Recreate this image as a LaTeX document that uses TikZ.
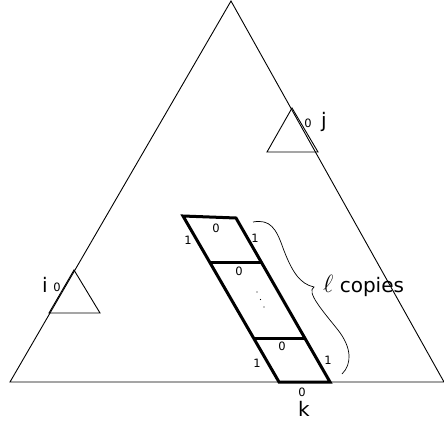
\documentclass[tikz,border=0pt]{standalone}
\usepackage{fontspec}
\setmainfont{DejaVu Sans}
\begin{document}
\begin{tikzpicture}[x=1pt,y=-1pt,
  thin line/.style={line width=0.9pt},
  thick line/.style={line width=3pt, line join=miter},
  small lbl/.style={font=\fontsize{11.5}{13}\selectfont, inner sep=0pt},
  big lbl/.style={font=\fontsize{20}{24}\selectfont, inner sep=0pt}]
\useasboundingbox (0,0) rectangle (444,426);
% big triangle
\coordinate (A) at (231,1);
\coordinate (L) at (10,382);
\coordinate (R) at (444,382);
\draw[thin line] (A) -- (L) -- (R) -- cycle;
% small triangles
\coordinate (ja) at (292,108);
\coordinate (jl) at (267,152);
\coordinate (jr) at (318,152);
\draw[thin line] (ja) -- (jl) -- (jr) -- cycle;
\coordinate (ia) at (74,270);
\coordinate (il) at (49,313);
\coordinate (ir) at (100,313);
\draw[thin line] (ia) -- (il) -- (ir) -- cycle;
% parallelogram
\coordinate (TL) at (183,216);
\coordinate (TR) at (236,218);
\coordinate (BR) at (330,382);
\coordinate (BL) at (279,382);
\draw[thick line] (TL) -- (TR) -- (BR) -- (BL) -- cycle;
\coordinate (m1l) at (211,262);
\coordinate (m1r) at (261,262);
\coordinate (m2l) at (255,338);
\coordinate (m2r) at (305,338);
\draw[thick line] (m1l) -- (m1r);
\draw[thick line] (m2l) -- (m2r);
% dots
\foreach \p in {(257,292),(260.5,299.5),(264,307)} \fill \p circle (0.6);
% brace
\coordinate (b1) at (253,222);
\coordinate (bt) at (314,287);
\coordinate (b2) at (342,374);
\draw[line width=0.7pt] (b1) .. controls (270,219) and (276,228) .. (283,248)
  .. controls (292,272) and (300,284) .. (bt)
  .. controls (306,292) and (322,310) .. (338,330)
  .. controls (352,348) and (352,364) .. (b2);
% labels
\node[small lbl] (t0a) at (216,228) {0};
\node[small lbl] (t1a) at (188,240) {1};
\node[small lbl] (t1b) at (255,238) {1};
\node[small lbl] (t0b) at (239,271) {0};
\node[small lbl] (t0c) at (282,346) {0};
\node[small lbl] (t1c) at (257,363) {1};
\node[small lbl] (t1d) at (328,360) {1};
\node[small lbl] (t0d) at (302,392) {0};
\node[big lbl] (k) at (304,409) {k};
\node[big lbl] (i) at (45,285) {i};
\node[small lbl] (i0) at (57,287) {0};
\node[small lbl] (j0) at (308,123) {0};
\node[big lbl] (j) at (324,122) {j};
\node[big lbl, anchor=base west] (copies) at (323,292) {{\fontsize{24}{28}\selectfont$\ell$} copies};
\end{tikzpicture}
\end{document}
